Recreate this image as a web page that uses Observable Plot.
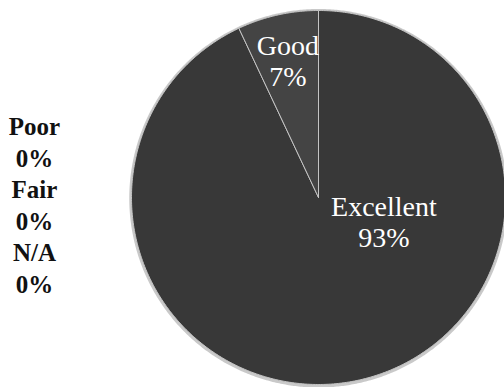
<!DOCTYPE html>
<html><head><meta charset="utf-8">
<script src="https://cdn.jsdelivr.net/npm/d3@7"></script>
<script src="https://cdn.jsdelivr.net/npm/@observablehq/plot@0.6"></script>
<style>html,body{margin:0;padding:0;background:#fff;overflow:hidden;}</style>
</head><body><div id="chart"></div>
<script>
// Data
const categories = ["Excellent", "Good", "Poor", "Fair", "N/A"];
const values = [93, 7, 0, 0, 0];

// Styles
const sliceColors = {"Excellent": "#383838", "Good": "#444444"};
const W = 504, H = 387, CX = 318, CY = 197, R = 187;

const total = d3.sum(values);
let acc = 0;
const slices = categories.map((c, i) => {
  const a0 = acc / total * 2 * Math.PI;
  acc += values[i];
  const a1 = acc / total * 2 * Math.PI;
  return {c, v: values[i], a0, a1};
});
const drawn = slices.filter(s => s.v > 0);
const zeros = slices.filter(s => s.v === 0);

const pts = [];
for (const s of drawn) {
  pts.push({c: s.c, x: 0, y: 0});
  const n = Math.max(2, Math.ceil((s.a1 - s.a0) / (Math.PI / 360)));
  for (let k = 0; k <= n; k++) {
    const a = s.a0 + (s.a1 - s.a0) * k / n;
    pts.push({c: s.c, x: Math.sin(a), y: Math.cos(a)});
  }
  pts.push({c: s.c, x: 0, y: 0});
}
const ring = d3.range(0, 721).map(k => ({x: 1.004 * Math.sin(k / 720 * 2 * Math.PI), y: 1.004 * Math.cos(k / 720 * 2 * Math.PI) - 0.004}));

// label placement (best-fit style)
const labelPos = s => {
  const mid = (s.a0 + s.a1) / 2;
  if (s.v / total < 0.5) return {x: 0.75 * Math.sin(mid), y: 0.75 * Math.cos(mid)};
  return {x: 0.35, y: -0.13};
};
const labels = drawn.map(s => ({...s, ...labelPos(s), text: `${s.c}\n${Math.round(s.v / total * 100)}%`}));
const zeroText = [{x: -1.519, y: -0.035, text: zeros.map(s => `${s.c}\n${Math.round(s.v / total * 100)}%`).join("\n")}];

const plot = Plot.plot({
  width: W, height: H,
  margin: 0,
  x: {domain: [-CX / R, (W - CX) / R], axis: null},
  y: {domain: [-(H - CY) / R, CY / R], axis: null},
  color: {type: "identity"},
  style: {background: "#fff"},
  marks: [
    Plot.line(ring, {x: "x", y: "y", stroke: "#c9c9c9", strokeWidth: 3}),
    Plot.line(pts, {x: "x", y: "y", z: "c", fill: d => sliceColors[d.c], stroke: "#c4c4c4", strokeWidth: 1, curve: "linear"}),
    Plot.text(labels, {x: "x", y: "y", text: "text", fill: "#fff", fontSize: 28, lineHeight: 1.1, fontFamily: "Liberation Serif"}),
    Plot.text(zeroText, {x: "x", y: "y", text: "text", fill: "#111", fontSize: 25, fontWeight: "bold", lineHeight: 1.26, fontFamily: "Liberation Serif"})
  ]
});
document.getElementById("chart").appendChild(plot);
</script>
</body></html>
